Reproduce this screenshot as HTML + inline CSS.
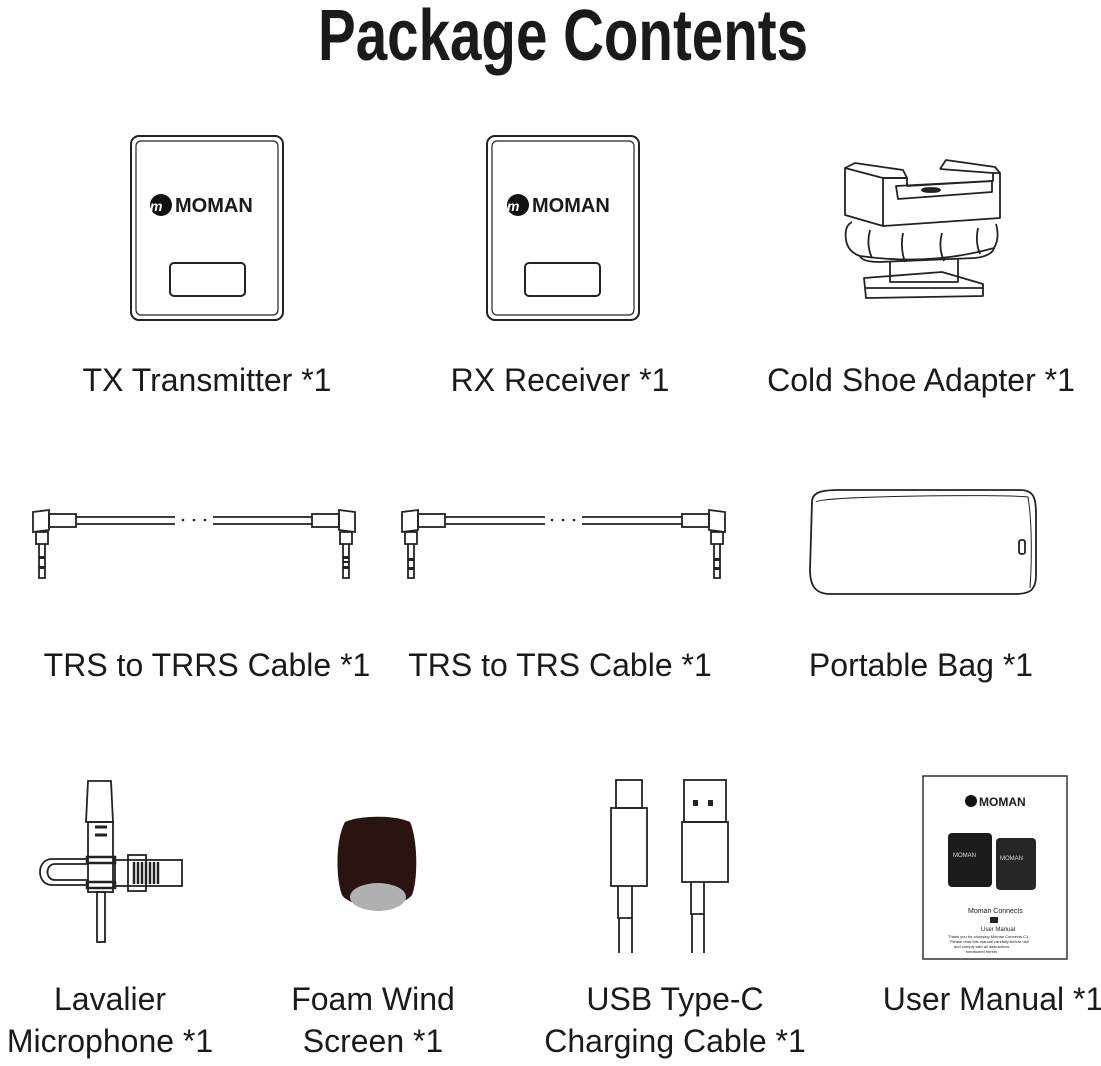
<!DOCTYPE html>
<html><head><meta charset="utf-8"><style>
html,body{margin:0;padding:0;background:#fff;}
svg{display:block;}
text{font-family:"Liberation Sans",sans-serif;fill:#1a1a1a;}
</style></head><body>
<svg width="1101" height="1066" viewBox="0 0 1101 1066" xmlns="http://www.w3.org/2000/svg">
<text x="318" y="60" font-weight="bold" font-size="72" textLength="490" lengthAdjust="spacingAndGlyphs" style="font-family:'Liberation Sans Narrow','Liberation Sans',sans-serif">Package Contents</text>

<g fill="none" stroke="#222" stroke-width="2">
<rect x="131" y="136" width="152" height="184" rx="8"/>
<rect x="136" y="141" width="142" height="174" rx="5" stroke-width="1.2"/>
<rect x="170" y="263" width="75" height="33" rx="4"/>
<rect x="487" y="136" width="152" height="184" rx="8"/>
<rect x="492" y="141" width="142" height="174" rx="5" stroke-width="1.2"/>
<rect x="525" y="263" width="75" height="33" rx="4"/>
</g>
<circle cx="161" cy="205" r="11" fill="#111"/><text x="150" y="211" font-size="14" style="fill:#fff" font-style="italic" font-weight="bold">m</text>
<text x="175" y="212" font-size="20" font-weight="bold">MOMAN</text>
<circle cx="518" cy="205" r="11" fill="#111"/><text x="507" y="211" font-size="14" style="fill:#fff" font-style="italic" font-weight="bold">m</text>
<text x="532" y="212" font-size="20" font-weight="bold">MOMAN</text>

<!-- cold shoe -->
<g fill="none" stroke="#222" stroke-width="1.8" stroke-linejoin="round">
<path d="M845 168 L883 178 L883 226 L845 215 Z"/>
<path d="M845 168 L855 163 L903 170 L907 178 L883 178"/>
<path d="M883 178 L907 178 L907 186 L993 181 L993 173 L1000 173 L1000 218 L883 226"/>
<path d="M940 169 L946 160 L995 167 L1000 173 M940 169 L993 173"/>
<path d="M896 186 L992 181 L992 192 L898 199 Z"/>
<ellipse cx="931" cy="190" rx="9" ry="2" fill="#222"/>
<path d="M852 222 Q844 226 846 240 Q848 252 860 256 Q930 266 994 248 Q1000 238 996 224"/>
<path d="M860 256 Q862 262 880 262 L975 258 Q992 256 994 248"/>
<path d="M870 230 Q866 245 872 258 M903 233 Q900 248 905 262 M942 233 Q938 248 944 261 M978 228 Q975 242 980 254"/>
<path d="M890 262 L890 282 L958 282 L958 258"/>
<path d="M864 278 L942 272 L983 284 L983 296 L866 298 Z M866 288 L983 288"/>
</g>

<!-- cables -->
<g fill="none" stroke="#222" stroke-width="1.8">
<path d="M33 512 L49 510 L49 530 L33 532 Z"/>
<rect x="49" y="514" width="27" height="13"/>
<path d="M76 517 L175 517 M76 524 L175 524 M213 517 L312 517 M213 524 L312 524"/>
<rect x="312" y="514" width="27" height="13"/>
<path d="M339 510 L355 512 L355 532 L339 530 Z"/>
<path d="M36 532 h12 v12 h-12 Z M39 544 v34 h6 v-34"/>
<path d="M340 532 h12 v12 h-12 Z M343 544 v34 h6 v-34"/>
<path d="M402 512 L418 510 L418 530 L402 532 Z"/>
<rect x="418" y="514" width="27" height="13"/>
<path d="M445 517 L545 517 M445 524 L545 524 M582 517 L682 517 M582 524 L682 524"/>
<rect x="682" y="514" width="27" height="13"/>
<path d="M709 510 L725 512 L725 532 L709 530 Z"/>
<path d="M405 532 h12 v12 h-12 Z M408 544 v34 h6 v-34"/>
<path d="M711 532 h12 v12 h-12 Z M714 544 v34 h6 v-34"/>
</g>
<g fill="#222">
<circle cx="183" cy="520" r="1.3"/><circle cx="194" cy="520" r="1.3"/><circle cx="205" cy="520" r="1.3"/>
<circle cx="552" cy="520" r="1.3"/><circle cx="563" cy="520" r="1.3"/><circle cx="574" cy="520" r="1.3"/>
<rect x="39" y="556" width="6" height="3"/><rect x="39" y="566" width="6" height="3"/>
<rect x="343" y="556" width="6" height="3"/><rect x="343" y="566" width="6" height="3"/><rect x="343" y="561" width="6" height="2"/>
<rect x="408" y="558" width="6" height="3"/><rect x="408" y="567" width="6" height="3"/>
<rect x="714" y="558" width="6" height="3"/><rect x="714" y="567" width="6" height="3"/>
</g>

<!-- bag -->
<g fill="none" stroke="#222" stroke-width="1.8">
<path d="M812 502 C812 492 822 490 840 490 L1020 490 C1035 490 1036 500 1036 515 L1036 575 C1036 590 1030 594 1015 594 L830 594 C815 594 810 585 810 570 Z"/>
<path d="M816 502 C820 496 1000 494 1028 497 C1032 520 1032 560 1030 588" stroke-width="1"/>
<rect x="1019" y="540" width="6" height="14" rx="2"/>
</g>

<!-- lavalier -->
<g fill="none" stroke="#222" stroke-width="1.8">
<path d="M86 822 L88 781 L111 781 L113 822 Z"/>
<rect x="88" y="822" width="25" height="70"/>
<path d="M95 827 h12 M95 835 h12" stroke-width="3"/>
<path d="M88 859 L52 859 C36 859 36 885 52 885 L88 885 M88 864 L55 864 C45 864 45 880 55 880 L88 880"/>
<rect x="87" y="857" width="28" height="6" stroke-width="2.5"/>
<rect x="87" y="882" width="28" height="6" stroke-width="2.5"/>
<rect x="115" y="860" width="67" height="26"/>
<rect x="128" y="855" width="18" height="36"/>
<path d="M134 862 v22 M138 862 v22 M142 862 v22 M146 862 v22 M150 862 v22 M154 862 v22 M158 862 v22" stroke-width="2.5"/>
<rect x="97" y="892" width="8" height="50"/>
</g>

<!-- foam -->
<path d="M345 822 C360 815 395 815 410 822 C418 840 418 880 412 895 C400 910 352 910 342 895 C336 880 335 840 345 822 Z" fill="#2a1412"/>
<ellipse cx="378" cy="897" rx="28" ry="14" fill="#b0b0b0"/>

<!-- usb -->
<g fill="none" stroke="#222" stroke-width="1.8">
<rect x="616" y="780" width="26" height="28"/>
<rect x="611" y="808" width="36" height="78"/>
<path d="M618 886 v32 h14 v-32 M619 918 v35 M632 918 v35"/>
<rect x="684" y="780" width="42" height="42"/>
<rect x="682" y="822" width="46" height="60"/>
<path d="M691 882 v32 h13 v-32 M692 914 v39 M704 914 v39"/>
</g>
<rect x="693" y="800" width="5" height="6" fill="#222"/><rect x="708" y="800" width="5" height="6" fill="#222"/>

<!-- manual -->
<rect x="923" y="776" width="144" height="183" fill="#fff" stroke="#333" stroke-width="1.5"/>
<circle cx="971" cy="801" r="6" fill="#111"/>
<text x="979" y="806" font-size="12" font-weight="bold">MOMAN</text>
<rect x="948" y="833" width="44" height="54" rx="4" fill="#1c1c1c"/>
<rect x="996" y="838" width="40" height="52" rx="4" fill="#262626"/>
<text x="953" y="857" font-size="6" style="fill:#ddd">MOMAN</text>
<text x="1000" y="860" font-size="6" style="fill:#ddd">MOMAN</text>
<text x="968" y="913" font-size="7">Moman Connects</text>
<rect x="990" y="917" width="8" height="6" fill="#222"/>
<text x="981" y="931" font-size="6">User Manual</text>
<text x="948" y="938" font-size="4">Thank you for choosing Moman Connects C1.</text>
<text x="950" y="943" font-size="4">Please read this manual carefully before use</text>
<text x="954" y="948" font-size="4">and comply with all instructions</text>
<text x="966" y="953" font-size="4">mentioned herein.</text>

<g font-size="32">
<text x="207" y="391" text-anchor="middle">TX Transmitter *1</text>
<text x="560" y="391" text-anchor="middle">RX Receiver *1</text>
<text x="921" y="391" text-anchor="middle">Cold Shoe Adapter *1</text>
<text x="207" y="676" text-anchor="middle">TRS to TRRS Cable *1</text>
<text x="560" y="676" text-anchor="middle">TRS to TRS Cable *1</text>
<text x="921" y="676" text-anchor="middle">Portable Bag *1</text>
<text x="110" y="1010" text-anchor="middle">Lavalier</text>
<text x="110" y="1052" text-anchor="middle">Microphone *1</text>
<text x="373" y="1010" text-anchor="middle">Foam Wind</text>
<text x="373" y="1052" text-anchor="middle">Screen *1</text>
<text x="675" y="1010" text-anchor="middle">USB Type-C</text>
<text x="675" y="1052" text-anchor="middle">Charging Cable *1</text>
<text x="993" y="1010" text-anchor="middle">User Manual *1</text>
</g>
</svg>
</body></html>
